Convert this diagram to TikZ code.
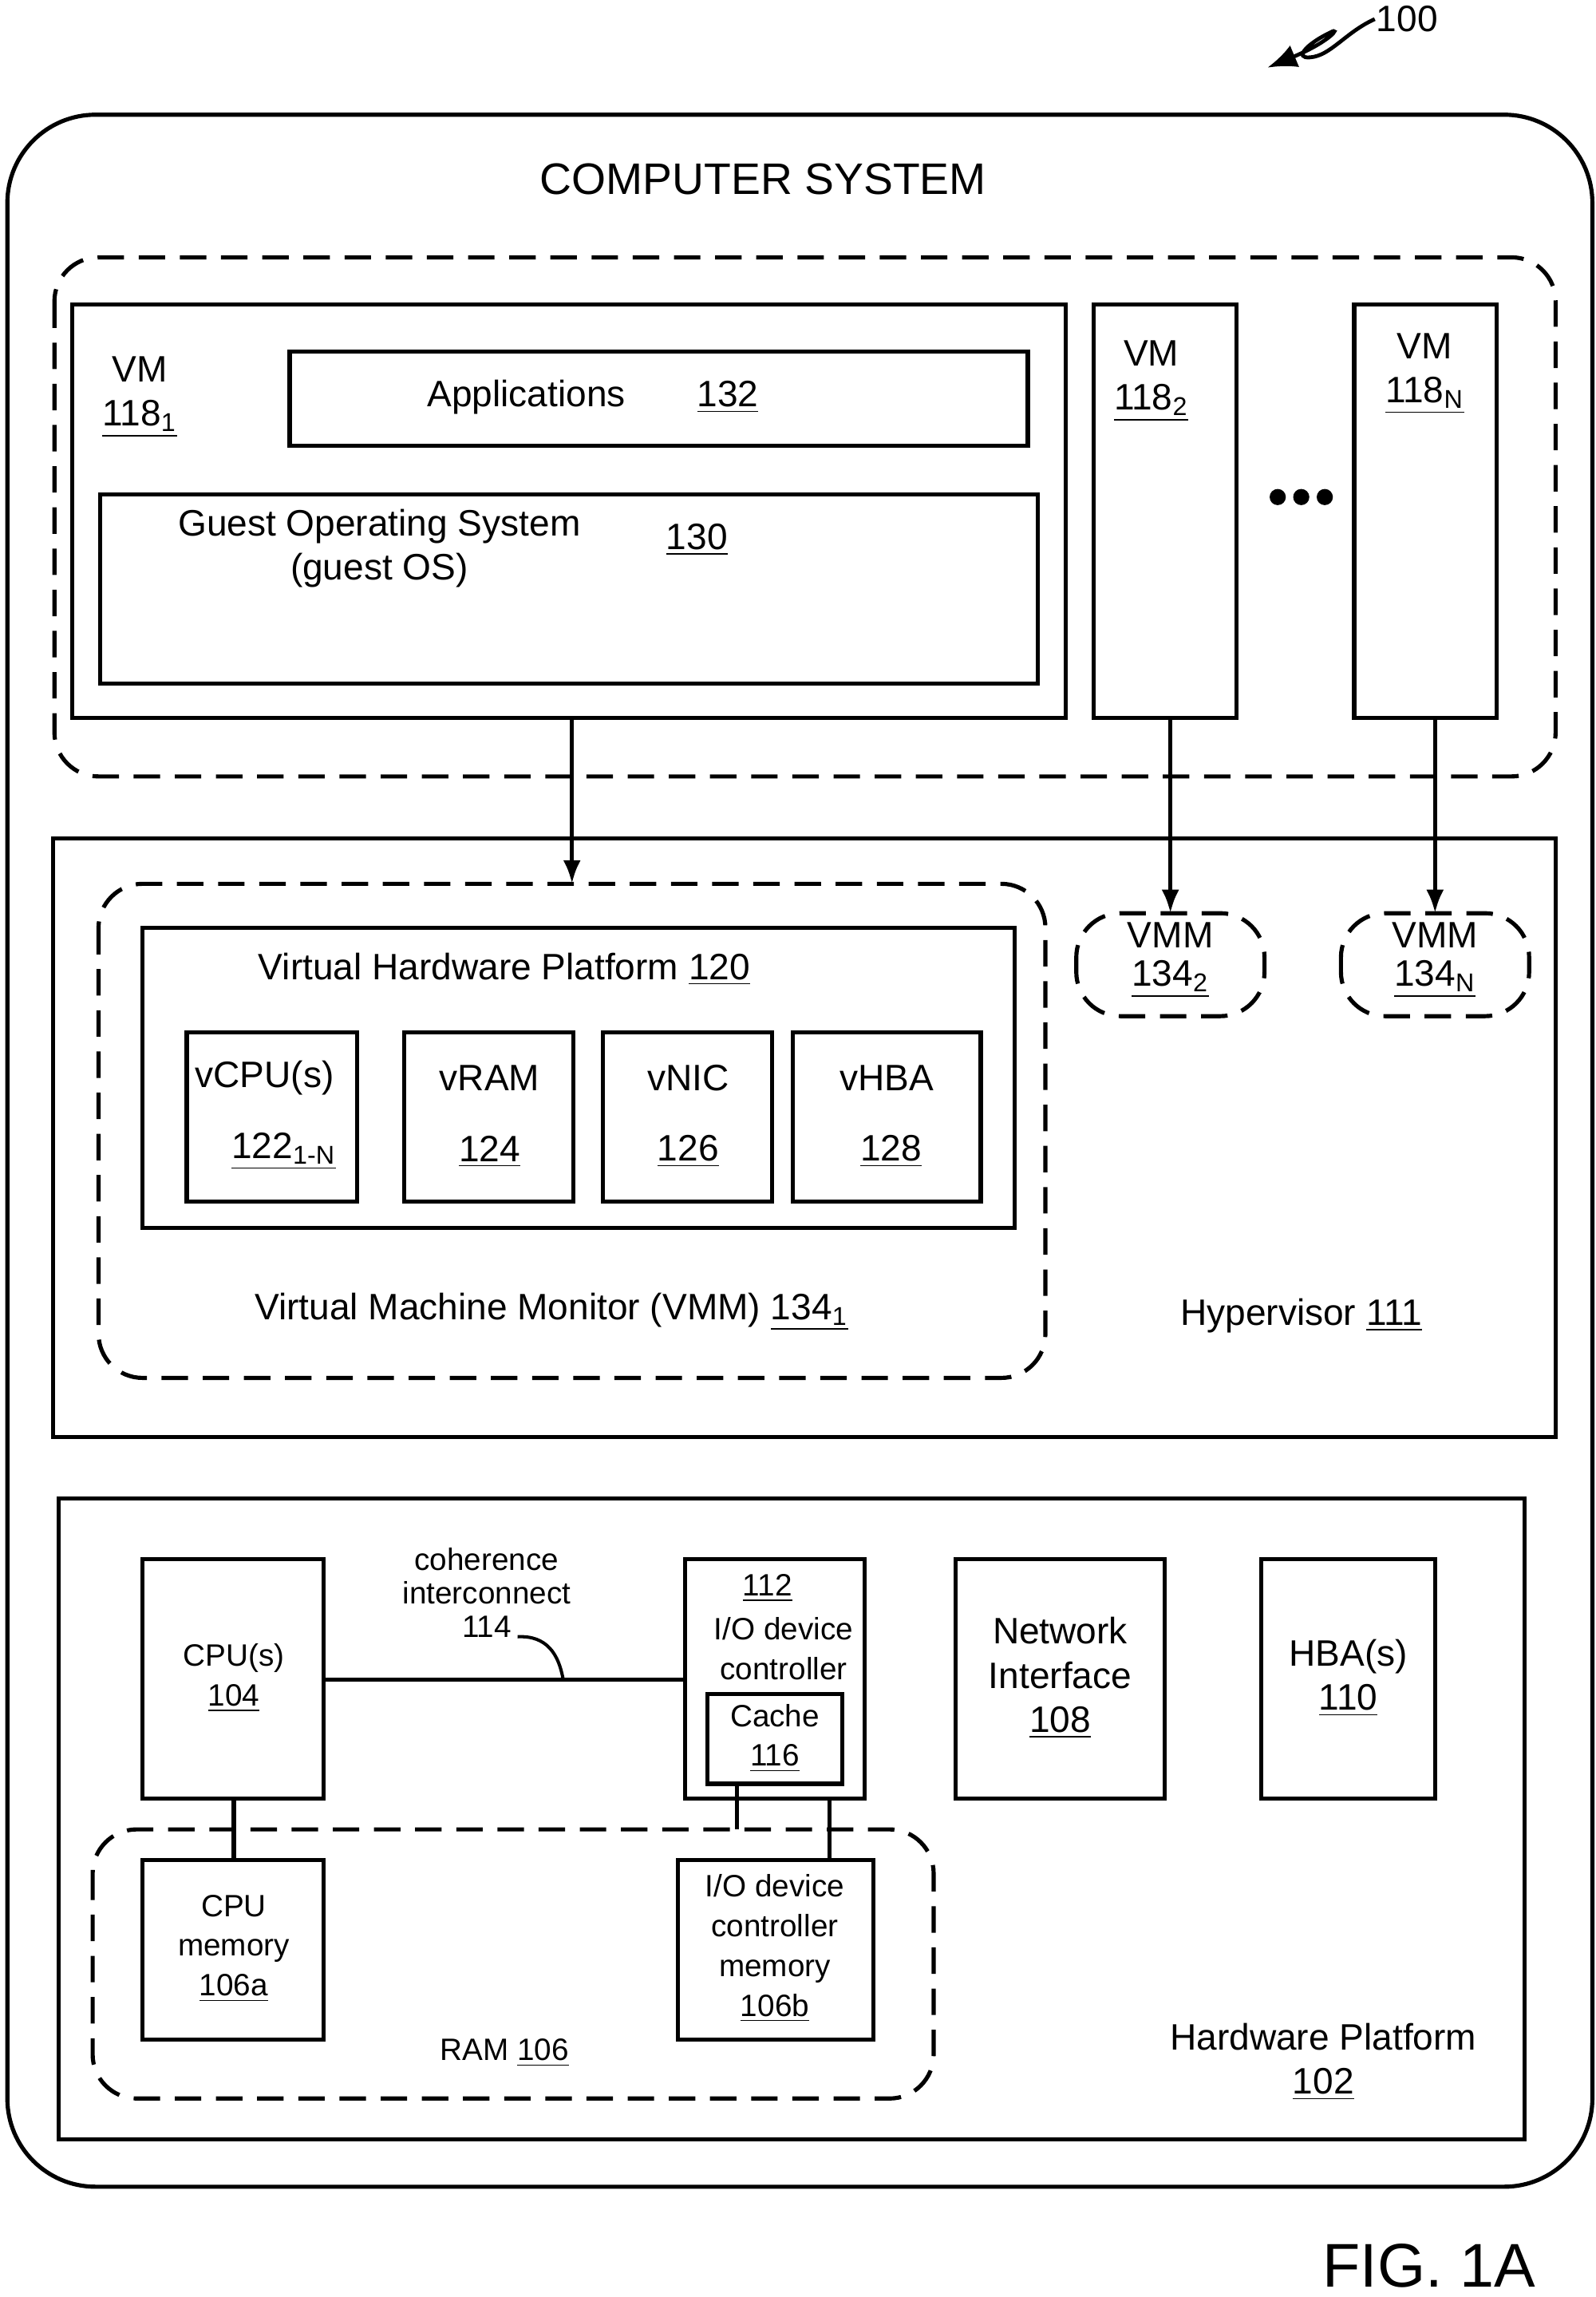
\documentclass[tikz,border=0pt]{standalone}
\usepackage{fontspec}
\setmainfont{Liberation Sans}
\usetikzlibrary{arrows.meta}
\newcommand{\ul}[1]{\underline{#1}}
\newcommand{\sbs}[1]{\textsubscript{#1}}
\begin{document}
\begin{tikzpicture}[x=0.5pt,y=-0.5pt,line width=1.4pt,
  box/.style={draw},
  dbox/.style={draw,dash pattern=on 9pt off 5pt,rounded corners=15pt},
  big/.style={font=\fontsize{15}{18}\selectfont},
  med/.style={font=\fontsize{12.5}{15}\selectfont,align=center},
  sm/.style={font=\fontsize{10.5}{13.5}\selectfont,align=center},
  arr/.style={-{Latex[length=8pt,width=6pt]}}]
\useasboundingbox (0,0) rectangle (1085,1562);
\draw[rounded corners=30pt] (5,78) rectangle (1083,1487);
\node[big] (cs) at (519,122) {COMPUTER SYSTEM};
\draw[dbox] (37,175) rectangle (1058,528);
\draw (49,207) rectangle (725,488);
\coordinate (vm1b) at (389,488);
\node[med] (vm1) at (95,270) {VM\\\ul{118\sbs{1}}};
\draw (197,239) rectangle (699,303);
\node[med] (app) at (358,270) {Applications};
\node[med] (n132) at (495,270) {\ul{132}};
\draw (68,336) rectangle (706,465);
\node[med] (gos) at (258,373) {Guest Operating System\\(guest OS)};
\node[med] (n130) at (474,367) {\ul{130}};
\draw (744,207) rectangle (841,488);
\node[med] (vm2) at (783,259) {VM\\\ul{118\sbs{2}}};
\draw (921,207) rectangle (1018,488);
\node[med] (vmn) at (969,254) {VM\\\ul{118\sbs{N}}};
\foreach \x in {869,885,901} \fill (\x,338) circle (5.5);
\draw (36,570) rectangle (1058,977);
\node[med] (hyp) at (885,895) {Hypervisor \ul{111}};
\draw[dbox] (67,601) rectangle (711,937);
\draw (97,631) rectangle (690,835);
\node[med] (vhp) at (343,659) {Virtual Hardware Platform \ul{120}};
\draw (127,702) rectangle (243,817);
\draw (275,702) rectangle (390,817);
\draw (410,702) rectangle (525,817);
\draw (539,702) rectangle (667,817);
\node[med] (vcpu) at (180,733) {vCPU(s)};
\node[med] (vcpun) at (193,783) {\ul{122\sbs{1-N}}};
\node[med] (vram) at (333,733) {vRAM};
\node[med] (vramn) at (333,783) {\ul{124}};
\node[med] (vnic) at (468,733) {vNIC};
\node[med] (vnicn) at (468,783) {\ul{126}};
\node[med] (vhba) at (603,733) {vHBA};
\node[med] (vhban) at (606,783) {\ul{128}};
\node[med] (vmm1) at (375,892) {Virtual Machine Monitor (VMM) \ul{134\sbs{1}}};
\coordinate (vmm1t) at (389,601);
\draw[arr] (vm1b) -- (vmm1t);
\draw[dbox] (732,621) rectangle (860,691);
\node[med,inner sep=0pt] (vmm2) at (796,653) {VMM\\[-2pt]\ul{134\sbs{2}}};
\draw[dbox] (912,621) rectangle (1040,691);
\node[med,inner sep=0pt] (vmmn) at (976,653) {VMM\\[-2pt]\ul{134\sbs{N}}};
\draw[arr] (796,488) -- (796,621);
\draw[arr] (976,488) -- (976,621);
% hardware
\draw (40,1019) rectangle (1037,1455);
\node[med] (hw) at (900,1402) {Hardware Platform\\\ul{102}};
\draw (97,1060) rectangle (220,1223);
\node[sm] (cpu) at (159,1141) {CPU(s)\\\ul{104}};
\draw (466,1060) rectangle (588,1223);
\node[sm] (n112) at (522,1080) {\ul{112}};
\node[sm] (ioc) at (533,1121) {I/O device\\controller};
\draw (481,1152) rectangle (573,1213);
\node[sm] (cache) at (527,1182) {Cache\\\ul{116}};
\draw (220,1142) -- (466,1142);
\node[sm,inner sep=0pt] (coh) at (331,1083) {coherence\\[-2pt]interconnect\\[-2pt]114};
\draw[line width=1.1pt] (352,1113) .. controls (372,1112) and (380,1125) .. (383,1142);
\draw (650,1060) rectangle (792,1223);
\node[med] (net) at (721,1141) {Network\\Interface\\\ul{108}};
\draw (858,1060) rectangle (976,1223);
\node[med] (hba) at (917,1141) {HBA(s)\\\ul{110}};
\draw[dbox] (63,1244) rectangle (635,1427);
\draw (97,1265) rectangle (220,1387);
\node[sm] (cpum) at (159,1325) {CPU\\memory\\\ul{106a}};
\draw (461,1265) rectangle (594,1387);
\node[sm] (iom) at (527,1325) {I/O device\\controller\\memory\\\ul{106b}};
\draw (159,1223) -- (159,1265);
\draw (501,1213) -- (501,1244);
\draw (564,1223) -- (564,1265);
\node[sm] (ram) at (343,1396) {RAM \ul{106}};
\node[font=\fontsize{21}{24}\selectfont] (fig) at (972,1541) {FIG. 1A};
\node[med] (n100) at (957,13) {100};
\draw[line width=1.3pt,-{Latex[length=10pt,width=8pt]}] (935,13) .. controls (915,22) and (905,38) .. (891,39) .. controls (880,40) and (888,30) .. (905,22) .. controls (912,18) and (905,28) .. (862,46);
\end{tikzpicture}
\end{document}
